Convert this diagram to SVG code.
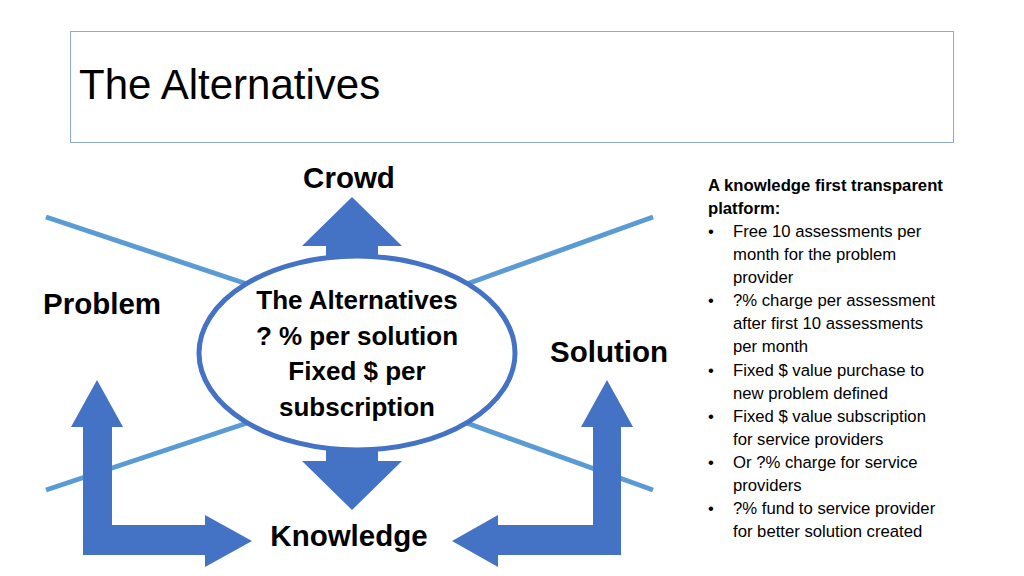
<svg xmlns="http://www.w3.org/2000/svg" width="1024" height="576" viewBox="0 0 1024 576">
<style>
.lbl{font-family:"Liberation Sans",Arial,sans-serif;font-weight:bold;fill:#000;text-anchor:middle}
.big{font-size:29.5px}
.mid{font-size:26px}
.side{font-family:"Liberation Sans",Arial,sans-serif;font-size:16.7px;fill:#000}
.arrow{fill:#4472C4}
.ray{stroke:#5B9BD5;stroke-width:5;fill:none}
</style>
<rect width="1024" height="576" fill="#fff"/>
<g id="title">
<rect x="70.5" y="31.5" width="883" height="111" fill="#fff" stroke="#8FAADC" stroke-width="1"/>
<text x="79" y="99" font-family="Liberation Sans,Arial,sans-serif" font-size="42" fill="#000">The Alternatives</text>
</g>
<g id="connectors">
<line class="ray" x1="46" y1="217" x2="250" y2="285"/>
<line class="ray" x1="653" y1="217" x2="464" y2="285"/>
<line class="ray" x1="46" y1="490" x2="250" y2="422"/>
<line class="ray" x1="653" y1="490" x2="464" y2="422"/>
<polygon id="arrow-crowd" class="arrow" points="352,197 402,246 378,246 378,262 326,262 326,246 302,246"/>
<polygon id="arrow-knowledge" class="arrow" points="352,510 402,461 378,461 378,445 326,445 326,461 302,461"/>
<polygon id="arrow-problem" class="arrow" points="97,380 123,427 112,427 112,525 205,525 205,515 252,541 205,567 205,555 83,555 83,427 71,427"/>
<polygon id="arrow-solution" class="arrow" points="607,380 633,427 621,427 621,555 498,555 498,567 452,541 498,515 498,525 593,525 593,427 581,427"/>
</g>
<g id="center">
<ellipse cx="357" cy="353" rx="158" ry="97" fill="#fff" stroke="#4472C4" stroke-width="5"/>
<text class="lbl mid" x="357" y="309">The Alternatives</text>
<text class="lbl mid" x="357" y="344.5">? % per solution</text>
<text class="lbl mid" x="357" y="380">Fixed $ per</text>
<text class="lbl mid" x="357" y="415.5">subscription</text>
</g>
<g id="crowd"><text class="lbl big" x="349" y="188">Crowd</text></g>
<g id="problem"><text class="lbl big" x="102" y="314">Problem</text></g>
<g id="solution"><text class="lbl big" x="609" y="362">Solution</text></g>
<g id="knowledge"><text class="lbl big" x="349" y="546">Knowledge</text></g>
<g id="notes" class="side">
<text x="708" y="191" font-weight="bold">A knowledge first transparent</text>
<text x="708" y="214" font-weight="bold">platform:</text>
<g>
<text x="708" y="237">•</text><text x="733" y="237">Free 10 assessments per</text>
<text x="733" y="260">month for the problem</text>
<text x="733" y="283">provider</text>
<text x="708" y="306">•</text><text x="733" y="306">?% charge per assessment</text>
<text x="733" y="329">after first 10 assessments</text>
<text x="733" y="352">per month</text>
<text x="708" y="376">•</text><text x="733" y="376">Fixed $ value purchase to</text>
<text x="733" y="399">new problem defined</text>
<text x="708" y="422">•</text><text x="733" y="422">Fixed $ value subscription</text>
<text x="733" y="445">for service providers</text>
<text x="708" y="468">•</text><text x="733" y="468">Or ?% charge for service</text>
<text x="733" y="491">providers</text>
<text x="708" y="514">•</text><text x="733" y="514">?% fund to service provider</text>
<text x="733" y="537">for better solution created</text>
</g>
</g>
</svg>
